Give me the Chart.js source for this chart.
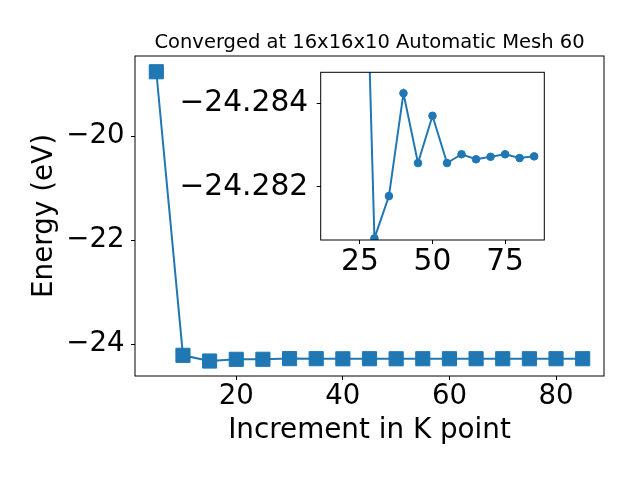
<!DOCTYPE html>
<html>
<head>
<meta charset="utf-8">
<script src="https://cdn.jsdelivr.net/npm/chart.js@4/dist/chart.umd.min.js"></script>
<style>
  body { margin: 0; background: #fff; }
  #wrap { position: relative; width: 640px; height: 480px; }
  #wrap canvas { position: absolute; left: 0; top: 0; }
</style>
</head>
<body>
<div id="wrap">
  <canvas id="mainChart" width="640" height="480"></canvas>
  <canvas id="insetChart" width="640" height="480"></canvas>
</div>
<script>
// k-point increments and total energies (eV)
const kPoints = [5, 10, 15, 20, 25, 30, 35, 40, 45, 50, 55, 60, 65, 70, 75, 80, 85];
const energies = [-18.763, -24.217, -24.327, -24.294, -24.2932, -24.28077, -24.28178, -24.28424,
  -24.28257, -24.28370, -24.28257, -24.28278, -24.28266, -24.28272, -24.28278, -24.28269, -24.28273];

// the inset (zoom) only plots from the third k-point on
const insetStart = 2;

// tick labels
const mainXTicks = [20, 40, 60, 80];
const mainYTicks = [-24, -22, -20];
const insetXTicks = [25, 50, 75];
const insetYTicks = [-24.284, -24.282];

const titleText = 'Converged at 16x16x10 Automatic Mesh 60';
const blue = '#1f77b4';

Chart.defaults.font.family = "'DejaVu Sans', sans-serif";
Chart.defaults.color = '#000';

const minus = s => s.replace('-', '\u2212');

// draw the four spines like matplotlib, and white background under the inset
const framePlugin = {
  id: 'frame',
  beforeDraw(chart, args, opts) {
    if (!opts.fill) return;
    const a = chart.chartArea;
    chart.ctx.save();
    chart.ctx.fillStyle = '#fff';
    chart.ctx.fillRect(a.left, a.top, a.right - a.left, a.bottom - a.top);
    chart.ctx.restore();
  },
  afterDraw(chart) {
    const a = chart.chartArea;
    const ctx = chart.ctx;
    ctx.save();
    ctx.strokeStyle = '#000';
    ctx.lineWidth = 1;
    ctx.strokeRect(a.left, a.top, a.right - a.left, a.bottom - a.top);
    ctx.restore();
  }
};

function tickGrid() {
  return { display: true, drawOnChartArea: false, drawTicks: true, tickLength: 4, color: '#000', lineWidth: 1 };
}

new Chart(document.getElementById('mainChart'), {
  type: 'line',
  data: {
    datasets: [{
      data: kPoints.map((k, i) => ({ x: k, y: energies[i] })),
      borderColor: blue,
      backgroundColor: blue,
      borderWidth: 2,
      pointStyle: 'rect',
      pointRadius: 10,
      pointBorderWidth: 1,
      pointBorderColor: blue,
      pointBackgroundColor: blue
    }]
  },
  options: {
    responsive: false,
    animation: false,
    layout: { padding: { top: 0, right: 36, bottom: 0, left: 0 } },
    plugins: {
      legend: { display: false },
      tooltip: { enabled: false },
      title: {
        display: true,
        fullSize: false,
        text: titleText,
        color: '#000',
        font: { size: 19.5, weight: 'normal' },
        padding: { top: 31.6, bottom: 1 }
      },
      frame: { fill: false }
    },
    scales: {
      x: {
        type: 'linear',
        min: 1,
        max: 89,
        grid: tickGrid(),
        border: { display: false },
        afterBuildTicks: s => { s.ticks = mainXTicks.map(v => ({ value: v })); },
        afterFit: s => { s.height = 104; },
        ticks: { font: { size: 27.6 }, padding: 0, maxRotation: 0, callback: v => minus(String(v)) },
        title: { display: true, text: 'Increment in K point', font: { size: 27.8 }, padding: { top: 0, bottom: 32.9 } }
      },
      y: {
        min: -24.615,
        max: -18.46,
        grid: tickGrid(),
        border: { display: false },
        afterBuildTicks: s => { s.ticks = mainYTicks.map(v => ({ value: v })); },
        afterFit: s => { s.width = 135; },
        ticks: { font: { size: 27.6 }, padding: 6.5, callback: v => minus(String(v)) },
        title: { display: true, text: 'Energy (eV)', font: { size: 27.8 }, padding: { top: 27.7, bottom: 0 } }
      }
    }
  },
  plugins: [framePlugin]
});

new Chart(document.getElementById('insetChart'), {
  type: 'line',
  data: {
    datasets: [{
      data: kPoints.slice(insetStart).map((k, i) => ({ x: k, y: energies[i + insetStart] })),
      borderColor: blue,
      backgroundColor: blue,
      borderWidth: 2,
      pointStyle: 'circle',
      pointRadius: 3.8,
      pointBorderWidth: 1,
      pointBorderColor: blue,
      pointBackgroundColor: blue
    }]
  },
  options: {
    responsive: false,
    animation: false,
    layout: { padding: { top: 72.3, right: 95.7, bottom: 0, left: 0 } },
    plugins: {
      legend: { display: false },
      tooltip: { enabled: false },
      title: { display: false },
      frame: { fill: true }
    },
    scales: {
      x: {
        type: 'linear',
        min: 11.5,
        max: 88.5,
        grid: tickGrid(),
        border: { display: false },
        afterBuildTicks: s => { s.ticks = insetXTicks.map(v => ({ value: v })); },
        afterFit: s => { s.height = 240; },
        ticks: { font: { size: 29.7 }, padding: 0, maxRotation: 0, callback: v => String(v) }
      },
      y: {
        reverse: true,
        min: -24.28474,
        max: -24.28073,
        grid: tickGrid(),
        border: { display: false },
        afterBuildTicks: s => { s.ticks = insetYTicks.map(v => ({ value: v })); },
        afterFit: s => { s.width = 320.7; },
        ticks: { font: { size: 29.7 }, padding: 8.5, callback: v => minus(v.toFixed(3)) }
      }
    }
  },
  plugins: [framePlugin]
});
</script>
</body>
</html>
